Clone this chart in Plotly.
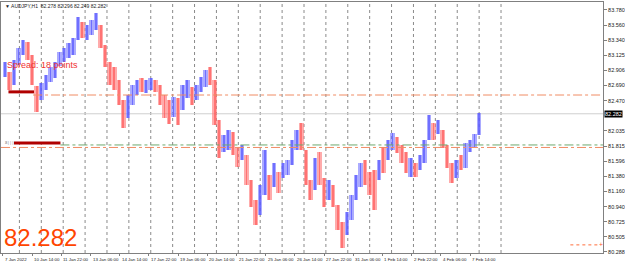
import plotly.graph_objects as go

# --- data (5-hour segments of the H1 AUDJPY series) ---
seg_high = [83.03, 82.89, 83.06, 83.23, 83.35, 83.32, 83.13, 82.68, 82.73, 82.84,
            82.96, 83.03, 83.17, 83.23, 83.30, 83.38, 83.68, 83.61, 83.56, 83.64,
            83.74, 83.56, 83.28, 83.03, 82.96, 82.77, 82.48, 82.55, 82.70, 82.77,
            82.80, 82.77, 82.80, 82.77, 82.70, 82.55, 82.48, 82.52, 82.51, 82.70,
            82.77, 82.67, 82.70, 82.81, 82.91, 82.96, 82.77, 82.19, 81.98, 82.05,
            82.02, 81.79, 81.83, 81.69, 81.33, 81.04, 81.25, 81.76, 81.40, 81.57,
            81.44, 81.57, 81.62, 81.90, 82.05, 82.15, 81.76, 81.33, 81.64, 81.73,
            81.36, 81.33, 81.25, 80.97, 80.72, 80.87, 81.11, 81.40, 81.57, 81.62,
            81.44, 81.47, 81.62, 81.80, 81.90, 82.00, 81.95, 81.83, 81.73, 81.64,
            81.57, 81.69, 81.90, 82.27, 82.15, 82.19, 82.05, 81.83, 81.57, 81.62,
            81.69, 81.86, 81.90, 81.99, 82.30]
seg_low = [82.81, 82.63, 82.70, 82.99, 83.13, 83.06, 82.70, 82.31, 82.48, 82.63,
           82.74, 82.80, 82.97, 83.03, 83.09, 83.13, 83.35, 83.38, 83.35, 83.42,
           83.49, 83.23, 82.96, 82.70, 82.63, 82.41, 82.08, 82.22, 82.41, 82.55,
           82.60, 82.58, 82.63, 82.60, 82.41, 82.22, 82.13, 82.24, 82.12, 82.34,
           82.51, 82.41, 82.48, 82.60, 82.67, 82.70, 82.12, 81.64, 81.73, 81.76,
           81.69, 81.51, 81.62, 81.25, 80.94, 80.68, 80.82, 81.11, 81.04, 81.23,
           81.14, 81.36, 81.40, 81.54, 81.76, 81.76, 81.25, 81.04, 81.18, 81.25,
           80.94, 81.04, 80.94, 80.61, 80.35, 80.53, 80.75, 81.04, 81.23, 81.25,
           81.11, 80.89, 81.33, 81.43, 81.62, 81.76, 81.72, 81.57, 81.43, 81.37,
           81.37, 81.47, 81.57, 81.90, 81.90, 81.99, 81.79, 81.50, 81.28, 81.36,
           81.47, 81.50, 81.73, 81.80, 81.98]
seg_dir = ["u","d","u","u","u","d","d","d","u","u",
           "u","u","u","u","u","u","u","d","u","u",
           "u","d","d","d","d","d","d","u","u","u",
           "d","u","u","d","d","d","d","u","d","u",
           "u","d","u","u","u","d","d","d","u","u",
           "d","d","u","d","d","d","u","u","d","u",
           "d","u","u","u","u","d","d","d","u","d",
           "d","u","d","d","d","u","u","u","u","d",
           "d","d","u","d","u","u","d","d","d","u",
           "d","u","u","u","d","u","d","d","d","u",
           "d","u","u","u","u"]
SEG = 5  # H1 bars per segment

time_labels = ["7 Jan 2022", "10 Jan 14:00", "11 Jan 22:00", "13 Jan 06:00", "14 Jan 14:00",
               "17 Jan 22:00", "19 Jan 06:00", "20 Jan 14:00", "21 Jan 22:00", "25 Jan 06:00",
               "26 Jan 14:00", "27 Jan 22:00", "31 Jan 06:00", "1 Feb 14:00", "2 Feb 22:00",
               "4 Feb 06:00", "7 Feb 14:00"]
label_step = 32
price_ticks = [83.780, 83.560, 83.340, 83.125, 82.906, 82.690, 82.470, 82.035,
               81.815, 81.596, 81.380, 81.160, 80.940, 80.725, 80.505, 80.288]
day_step = 24
first_day = 18
n_days = 23
last_price = 82.282
ohlc_text = "\u25bc AUDJPY,H1  82.278 82.296 82.249 82.282"
spread_text = "Spread: 18 points"
level_upper = 82.553
level_green = 81.832
level_lower = 81.796
target_level = 80.39

xs = [SEG * k + (SEG - 1) / 2 for k in range(len(seg_high))]
heights = [h - l for h, l in zip(seg_high, seg_low)]
UP_L, DN_L = "rgba(115,115,255,0.6)", "rgba(255,115,115,0.6)"
UP_C, DN_C = "rgba(85,85,255,0.7)", "rgba(255,85,85,0.65)"
col_light = [UP_L if d == "u" else DN_L for d in seg_dir]
col_core = [UP_C if d == "u" else DN_C for d in seg_dir]

fig = go.Figure()
fig.add_trace(go.Bar(x=xs, y=heights, base=seg_low, width=SEG, marker=dict(color=col_light, line=dict(width=0)),
                     hoverinfo="skip"))
fig.add_trace(go.Bar(x=xs, y=heights, base=seg_low, width=2.0, marker=dict(color=col_core, line=dict(width=0)),
                     hoverinfo="skip"))

X0, X1 = -2.18, 657.8
Y0, Y1 = 80.273, 83.895

shapes = []
for k in range(n_days):
    xv = first_day + day_step * k
    shapes.append(dict(type="line", xref="x", yref="paper", x0=xv, x1=xv, y0=0, y1=1,
                       line=dict(color="#8a8a8a", width=1, dash="dot"), layer="below"))
# current price line
shapes.append(dict(type="line", xref="paper", yref="y", x0=0, x1=1, y0=last_price, y1=last_price,
                   line=dict(color="#cfcfcf", width=1), layer="below"))
# horizontal levels
shapes.append(dict(type="line", xref="x", yref="y", x0=33, x1=X1, y0=level_upper, y1=level_upper,
                   line=dict(color="rgb(240,140,100)", width=1, dash="dashdot")))
shapes.append(dict(type="line", xref="x", yref="y", x0=6, x1=34, y0=level_upper + 0.045, y1=level_upper + 0.045,
                   line=dict(color="#b00000", width=3)))
shapes.append(dict(type="line", xref="x", yref="y", x0=63, x1=X1, y0=level_green, y1=level_green,
                   line=dict(color="rgb(110,170,110)", width=1, dash="dashdot")))
shapes.append(dict(type="line", xref="x", yref="y", x0=X0, x1=X1, y0=level_lower, y1=level_lower,
                   line=dict(color="rgb(240,140,100)", width=1, dash="dashdot")))
shapes.append(dict(type="line", xref="x", yref="y", x0=12, x1=63, y0=level_green + 0.03, y1=level_green + 0.03,
                   line=dict(color="#b00000", width=3)))
shapes.append(dict(type="line", xref="x", yref="y", x0=622, x1=655, y0=target_level, y1=target_level,
                   line=dict(color="rgb(255,110,60)", width=1, dash="dot")))
fig.update_layout(shapes=shapes)

ann = []
for i, t in enumerate(time_labels):
    ann.append(dict(x=i * label_step, y=0, xref="x", yref="paper", text=t, showarrow=False,
                    xanchor="left", yanchor="top", xshift=0, yshift=-2,
                    font=dict(size=4.4, color="#222", family="Liberation Sans")))
ann.append(dict(x=1, y=last_price, xref="paper", yref="y", text=f"{last_price:.3f}", showarrow=False,
                xanchor="left", yanchor="middle", xshift=1, bgcolor="black", borderpad=0,
                font=dict(size=5.5, color="white", family="Liberation Sans")))
ann.append(dict(x=0.004, y=0.985, xref="paper", yref="paper", text=ohlc_text, showarrow=False,
                xanchor="left", yanchor="middle", font=dict(size=5, color="#222", family="Liberation Sans")))
ann.append(dict(x=0.007, y=82.98, xref="paper", yref="y", text=spread_text, showarrow=False,
                xanchor="left", yanchor="middle", font=dict(size=9, color="rgb(240,50,50)", family="Liberation Sans")))
ann.append(dict(x=0.002, y=0.0, xref="paper", yref="paper", text=f"{last_price:.3f}", showarrow=False,
                xanchor="left", yanchor="bottom",
                font=dict(size=24, color="#FF4500", family="Liberation Sans")))
ann.append(dict(x=655.5, y=target_level, xref="x", yref="y", text="+", showarrow=False,
                xanchor="center", yanchor="middle", font=dict(size=7, color="rgb(255,90,40)")))
ann.append(dict(x=0.004, y=level_green + 0.03, xref="paper", yref="y", text="8|||", showarrow=False,
                xanchor="left", yanchor="middle", font=dict(size=4, color="#666")))
fig.update_layout(annotations=ann)

fig.update_layout(
    width=625, height=264, margin=dict(l=0, r=20, t=2, b=11),
    paper_bgcolor="white", plot_bgcolor="white", showlegend=False,
    barmode="overlay", bargap=0,
    xaxis=dict(range=[X0, X1], showgrid=False, zeroline=False, showline=True, linecolor="#808080",
               linewidth=1, mirror=True, tickvals=[i * label_step for i in range(len(time_labels))],
               ticks="outside", ticklen=2, tickcolor="#808080", showticklabels=False, fixedrange=True),
    yaxis=dict(range=[Y0, Y1], side="right", showgrid=False, zeroline=False, showline=True,
               linecolor="#808080", linewidth=1, mirror=True, tickvals=price_ticks,
               ticktext=[f"{v:.3f}" for v in price_ticks], ticks="outside", ticklen=3,
               tickcolor="#808080", tickfont=dict(size=5.5, color="#222", family="Liberation Sans"),
               fixedrange=True),
)

fig.write_html("out.html")
